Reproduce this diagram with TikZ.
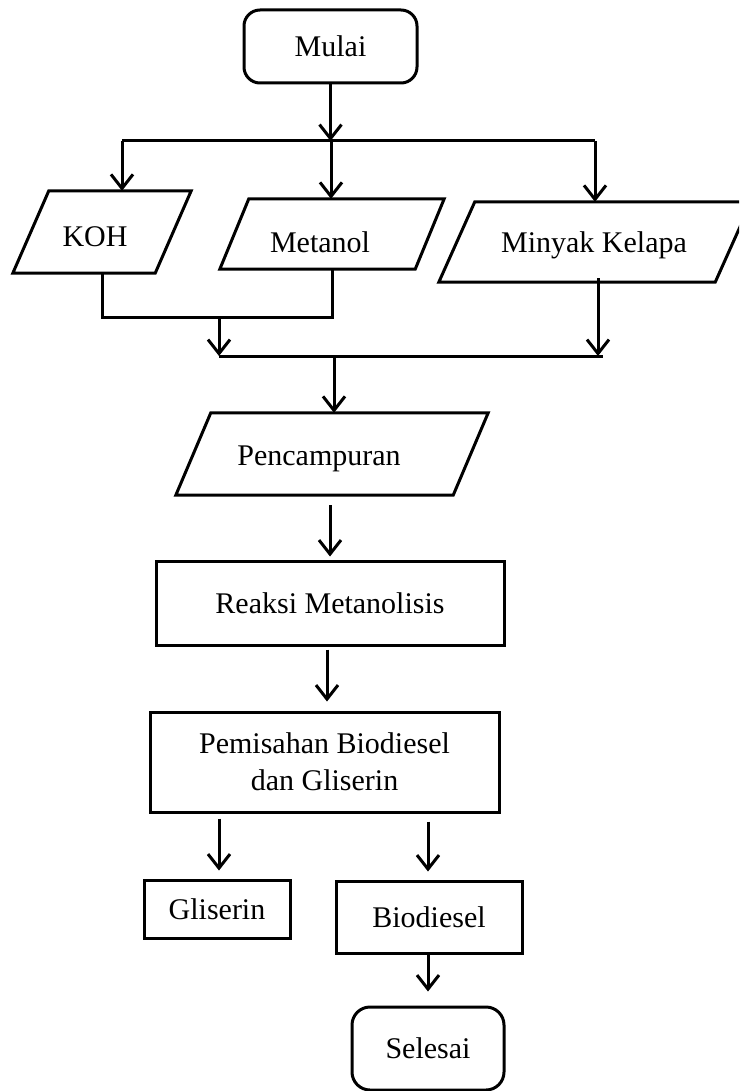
\documentclass[tikz,border=0pt]{standalone}
\usepackage{fontspec}
\setmainfont{Liberation Serif}
\usetikzlibrary{arrows.meta,calc}
\tikzset{
  every node/.style={font=\fontsize{30}{37}\selectfont, align=center, inner sep=0pt},
  box/.style={draw, line width=3pt, rectangle},
  term/.style={draw, line width=3pt, rectangle, rounded corners=16pt},
  para/.style={rectangle},
  conn/.style={line width=3pt},
  arr/.style={line width=3pt, -{Straight Barb[length=14pt,width=22pt,line width=3pt]}},
}
\newcommand{\drawpara}[2]{%
  \draw[conn, line join=miter] ($(#1.north west)+(#2,0)$) -- (#1.north east)
    -- ($(#1.south east)-(#2,0)$) -- (#1.south west) -- cycle;}
\begin{document}
\begin{tikzpicture}[x=1pt,y=-1pt]
\useasboundingbox (0,0) rectangle (739,1091);
\clip (0,0) rectangle (739,1091);
\fill[white] (0,0) rectangle (739,1091);

% nodes
\node[term, minimum width=173pt, minimum height=73pt] (mulai) at (330.5,46.5) {Mulai};
\node[para, minimum width=178pt, minimum height=82pt] (koh) at (102,232) {};
\node[para, minimum width=224pt, minimum height=70pt] (metanol) at (332,234) {};
\node[para, minimum width=312pt, minimum height=80pt] (minyak) at (595,242) {};
\node[para, minimum width=312pt, minimum height=82pt] (pencampuran) at (332,454) {};
\node (kohtxt) at ($(koh.center)+(-7,5)$) {KOH};
\node (metanoltxt) at ($(metanol.center)+(-12,8)$) {Metanol};
\node (minyaktxt) at ($(minyak.center)+(-1,3)$) {Minyak Kelapa};
\node (pencampurantxt) at ($(pencampuran.center)+(-13,5)$) {Pencampuran};
\node[box, minimum width=348pt, minimum height=84pt] (reaksi) at (330,603) {Reaksi Metanolisis};
\node[box, minimum width=349pt, minimum height=100pt] (pemisahan) at (324.5,762) {Pemisahan Biodiesel\\dan Gliserin};
\node[box, minimum width=146pt, minimum height=58pt] (gliserin) at (217,909) {Gliserin};
\node[box, minimum width=186pt, minimum height=72pt] (biodiesel) at (429,917) {Biodiesel};
\node[term, rounded corners=18pt, minimum width=152pt, minimum height=83pt] (selesai) at (428,1048.5) {Selesai};

\drawpara{koh}{36}
\drawpara{metanol}{29}
\drawpara{minyak}{36}
\drawpara{pencampuran}{35}

% split after Mulai
\coordinate (split) at (331,141);
\coordinate (sl) at (122,141);
\coordinate (sr) at (595,141);
\draw[arr] (mulai.south) -- (mulai.south |- split);
\draw[conn] (sl) -- (sr);
\draw[arr] (sl) -- (sl |- koh.north);
\draw[arr] (split) -- (split |- metanol.north);
\draw[arr] (sr) -- (sr |- minyak.north);

% merge
\coordinate (jy) at (0,317);
\coordinate (m1) at (219,317);
\coordinate (m2) at (219,356);
\coordinate (m3) at (603,356);
\coordinate (m4) at (334,356);
\coordinate (mk) at ($(minyak.south)+(3,-4)$);
\draw[conn] (koh.south) -- (koh.south |- jy) -- (metanol.south |- jy) -- (metanol.south);
\draw[arr] (m1) -- (m2);
\draw[conn] (m2) -- (m3);
\draw[arr] (mk) -- (mk |- m3);
\draw[arr] (m4) -- (m4 |- pencampuran.north);

% sequence
\draw[arr, shorten <=10pt, shorten >=3pt] (reaksi.north |- pencampuran.south) -- (reaksi.north);
\draw[arr, shorten <=3pt, shorten >=9pt] ([xshift=-3pt]reaksi.south) -- ([xshift=-3pt]reaksi.south |- pemisahan.north);
\draw[arr, shorten <=5pt, shorten >=8pt] ([xshift=2pt]gliserin.north |- pemisahan.south) -- ([xshift=2pt]gliserin.north);
\draw[arr, shorten <=8pt, shorten >=8pt] ([xshift=-1pt]biodiesel.north |- pemisahan.south) -- ([xshift=-1pt]biodiesel.north);
\draw[arr, shorten >=14pt] ([xshift=-1pt]biodiesel.south) -- ([xshift=-1pt]biodiesel.south |- selesai.north);
\end{tikzpicture}
\end{document}
